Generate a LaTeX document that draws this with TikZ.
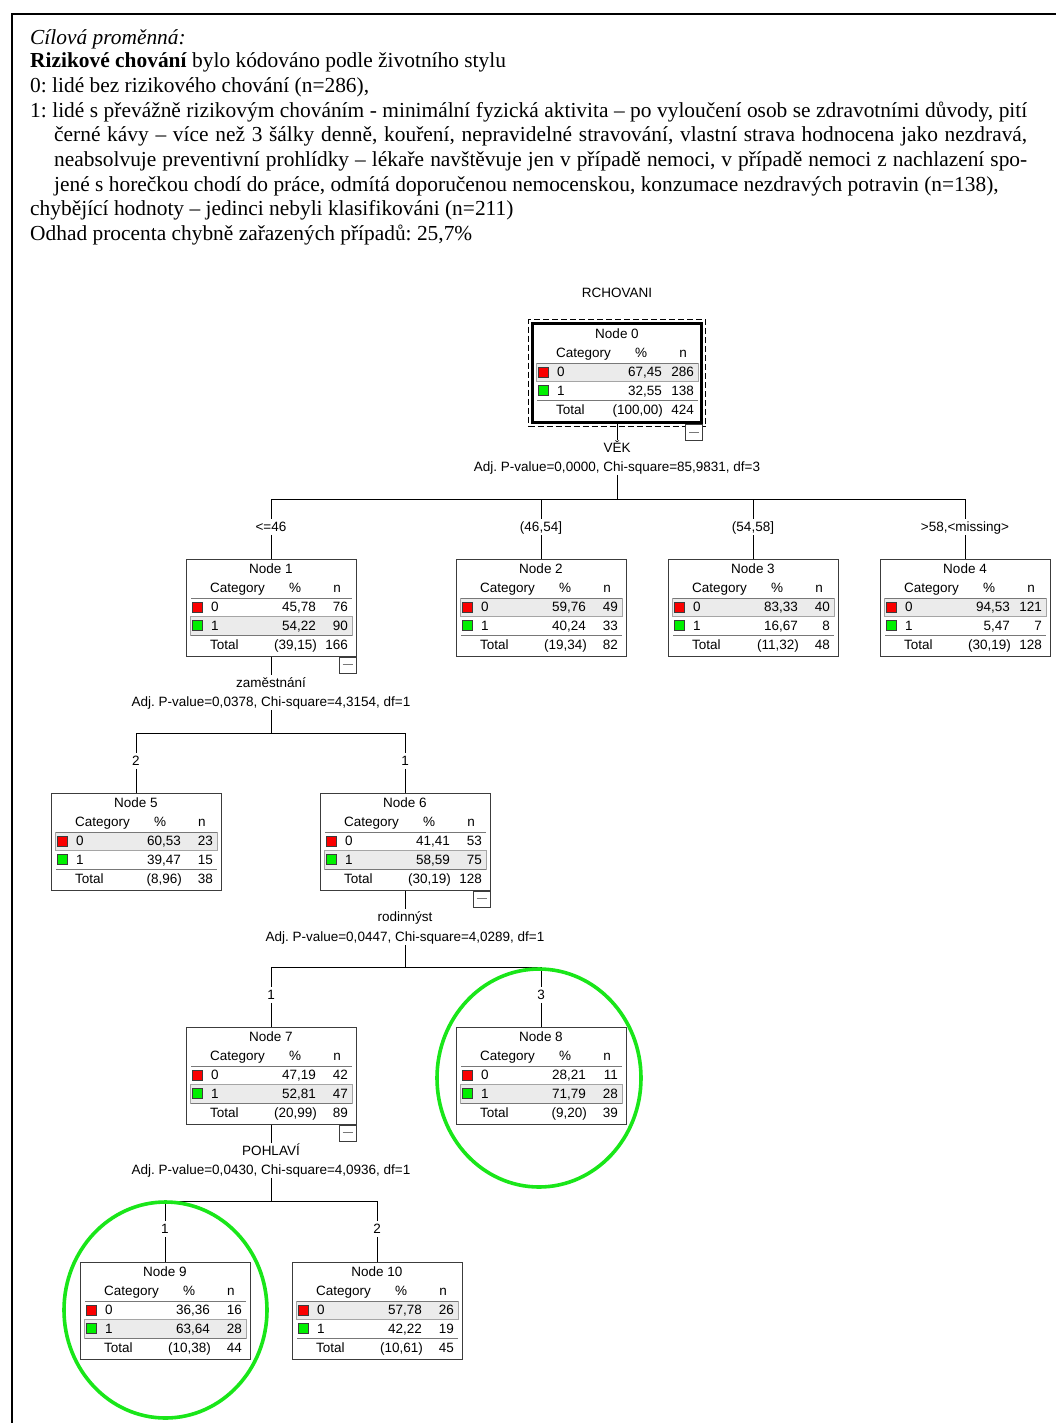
\documentclass[tikz,border=0pt]{standalone}
\usepackage{fontspec}
\setmainfont{Liberation Serif}
\newfontfamily\arialf{Liberation Sans}
\usetikzlibrary{calc}
\definecolor{catred}{RGB}{250,0,0}
\definecolor{catgreen}{RGB}{0,240,0}
\definecolor{ringgreen}{RGB}{25,230,25}
\definecolor{bandgray}{RGB}{235,235,235}
\definecolor{bandline}{RGB}{165,165,165}
\definecolor{rulegray}{RGB}{120,120,120}
\definecolor{boxgray}{RGB}{60,60,60}
\frenchspacing
\tikzset{
 tx/.style={inner sep=0pt, text height=9.5pt, text depth=0pt, font=\arialf\fontsize{13.5}{15}\selectfont},
 txl/.style={tx, anchor=west},
 txr/.style={tx, anchor=east},
 lab/.style={tx, inner ysep=3pt, inner xsep=2pt},
 tbox/.style={draw=boxgray, line width=1pt, minimum width=170pt, minimum height=97pt, inner sep=0pt},
 coll/.style={draw=boxgray, line width=0.8pt, fill=white, minimum width=17pt, minimum height=16pt, inner sep=0pt},
 conn/.style={draw=black, line width=1pt},
 hd/.style={anchor=west, inner sep=0pt, text height=14.2pt, text depth=0pt, font=\fontsize{21.4}{24.5}\selectfont},
 ring/.style={draw=ringgreen, line width=3.6pt},
}
% #1 number, #2 left, #3 top, #4 shaded row, #5 %0, #6 n0, #7 %1, #8 n1, #9 total %
\newcommand\tnode[9]{%
 \begin{scope}[shift={(#2,#3)}]
  \node[tbox] (n#1) at (85,48.5) {};
  \fill[bandgray] (4,{39+18.5*#4}) rectangle (166,{57.5+18.5*#4});
  \draw[bandline, line width=0.7pt] (4,{39+18.5*#4}) rectangle (166,{57.5+18.5*#4});
  \draw[rulegray, line width=1pt] (5,39) -- (166,39) (5,76) -- (166,76);
  \node[tx] (n#1-t) at (85,10) {Node #1};
  \node[txl] (n#1-h) at (24,29) {Category};
  \node[tx] (n#1-hp) at (109,29) {\%};
  \node[tx] (n#1-hn) at (151,29) {n};
  \draw[boxgray, line width=0.4pt, fill=catred] (6,43) rectangle (16,53);
  \draw[boxgray, line width=0.4pt, fill=catgreen] (6,61.5) rectangle (16,71.5);
  \node[txl] (n#1-a0) at (25,48) {0};
  \node[txr] (n#1-b0) at (130,48) {#5};
  \node[txr] (n#1-c0) at (162,48) {#6};
  \node[txl] (n#1-a1) at (25,66.5) {1};
  \node[txr] (n#1-b1) at (130,66.5) {#7};
  \node[txr] (n#1-c1) at (162,66.5) {#8};
  \node[txl] (n#1-a2) at (24,85.5) {Total};
  \node[txr] (n#1-b2) at (131,85.5) {#9};
  \node[txr] (n#1-c2) at (162,85.5) {\the\numexpr#6+#8\relax};
 \end{scope}}
\newcommand\collbox[2]{%
  \node[coll, anchor=north east] (#1) at (#2) {};
  \draw[rulegray, line width=1pt] ($(#1.center)+(-5,0)$) -- ($(#1.center)+(5,0)$);}
\begin{document}
\frenchspacing
\begin{tikzpicture}[x=1pt, y=-1pt]
\useasboundingbox (0,0) rectangle (1056,1423);
\fill[white] (0,0) rectangle (1056,1423);
% frame
\draw[line width=2.5pt] (12,1423) -- (12,14) -- (1056,14);
% header
\node[hd] (h1) at (30,37) {\itshape Cílová proměnná:};
\node[hd] (h2) at (30,60) {\textbf{Rizikové chování} bylo kódováno podle životního stylu};
\node[hd] (h3) at (30,85) {0: lidé bez rizikového chování (n=286),};
\node[hd] (h4) at (30,110) {\makebox[997pt][s]{1: lidé s převážně rizikovým chováním - minimální fyzická aktivita – po vyloučení osob se zdravotními důvody, pití}};
\node[hd] (h5) at (54,134) {\makebox[973pt][s]{černé kávy – více než 3 šálky denně, kouření, nepravidelné stravování, vlastní strava hodnocena jako nezdravá,}};
\node[hd] (h6) at (54,159) {\makebox[973pt][s]{neabsolvuje preventivní prohlídky – lékaře navštěvuje jen v případě nemoci, v případě nemoci z nachlazení spo-}};
\node[hd] (h7) at (54,184) {jené s horečkou chodí do práce, odmítá doporučenou nemocenskou, konzumace nezdravých potravin (n=138),};
\node[hd] (h8) at (30,208) {chybějící hodnoty – jedinci nebyli klasifikováni (n=211)};
\node[hd] (h9) at (30,233) {Odhad procenta chybně zařazených případů: 25,7\%};
% title
\node[tx] (title) at (617,293) {RCHOVANI};
% nodes
\tnode{0}{532}{324}{0}{67,45}{286}{32,55}{138}{(100,00)}
\node[draw=black, line width=3pt, minimum width=169pt, minimum height=99pt, inner sep=0pt] (n0f) at (617,373) {};
\node[draw=black, line width=0.9pt, dash pattern=on 6pt off 3pt, minimum width=177pt, minimum height=107pt, inner sep=0pt] (n0d) at (617,373) {};
\tnode{1}{186}{559}{1}{45,78}{76}{54,22}{90}{(39,15)}
\tnode{2}{456}{559}{0}{59,76}{49}{40,24}{33}{(19,34)}
\tnode{3}{668}{559}{0}{83,33}{40}{16,67}{8}{(11,32)}
\tnode{4}{880}{559}{0}{94,53}{121}{5,47}{7}{(30,19)}
\tnode{5}{51}{793}{0}{60,53}{23}{39,47}{15}{(8,96)}
\tnode{6}{320}{793}{1}{41,41}{53}{58,59}{75}{(30,19)}
\tnode{7}{186}{1027}{1}{47,19}{42}{52,81}{47}{(20,99)}
\tnode{8}{456}{1027}{1}{28,21}{11}{71,79}{28}{(9,20)}
\tnode{9}{80}{1262}{1}{36,36}{16}{63,64}{28}{(10,38)}
\tnode{10}{292}{1262}{0}{57,78}{26}{42,22}{19}{(10,61)}
% collapse boxes
\collbox{x0}{n0f.south east}
\collbox{x1}{n1.south east}
\collbox{x6}{n6.south east}
\collbox{x7}{n7.south east}
% split at node 0
\node[lab] (s0v) at (617,448) {VĚK};
\node[lab] (s0a) at (617,467) {Adj. P-value=0,0000, Chi-square=85,9831, df=3};
\coordinate (s0) at (617,499);
\coordinate (s0p1) at (271,499);
\coordinate (s0p2) at (541,499);
\coordinate (s0p3) at (753,499);
\coordinate (s0p4) at (965,499);
\draw[conn] (n0f.south) -- (s0v.north);
\draw[conn] (s0a.south) -- (s0);
\draw[conn] (s0p1) -- (s0p4);
\node[lab] (e1) at (271,527) {<=46};
\node[lab] (e2) at (541,527) {(46,54]};
\node[lab] (e3) at (753,527) {(54,58]};
\node[lab] (e4) at (965,527) {>58,<missing>};
\foreach \i in {1,2,3,4}{
  \draw[conn] (s0p\i) -- (e\i.north);
  \draw[conn] (e\i.south) -- (n\i.north);
}
% split at node 1
\node[lab] (s1v) at (271,683) {zaměstnání};
\node[lab] (s1a) at (271,702) {Adj. P-value=0,0378, Chi-square=4,3154, df=1};
\coordinate (s1) at (271,733);
\coordinate (s1p5) at (136,733);
\coordinate (s1p6) at (405,733);
\draw[conn] (n1.south) -- (s1v.north);
\draw[conn] (s1a.south) -- (s1);
\draw[conn] (s1p5) -- (s1p6);
\node[lab] (e5) at (136,761) {2};
\node[lab] (e6) at (405,761) {1};
\foreach \i in {5,6}{
  \draw[conn] (s1p\i) -- (e\i.north);
  \draw[conn] (e\i.south) -- (n\i.north);
}
% split at node 6
\node[lab] (s6v) at (405,917) {rodinnýst};
\node[lab] (s6a) at (405,937) {Adj. P-value=0,0447, Chi-square=4,0289, df=1};
\coordinate (s6) at (405,967);
\coordinate (s6p7) at (271,967);
\coordinate (s6p8) at (541,967);
\draw[conn] (n6.south) -- (s6v.north);
\draw[conn] (s6a.south) -- (s6);
\draw[conn] (s6p7) -- (s6p8);
\node[lab] (e7) at (271,995) {1};
\node[lab] (e8) at (541,995) {3};
\foreach \i in {7,8}{
  \draw[conn] (s6p\i) -- (e\i.north);
  \draw[conn] (e\i.south) -- (n\i.north);
}
% split at node 7
\node[lab] (s7v) at (271,1151) {POHLAVÍ};
\node[lab] (s7a) at (271,1170) {Adj. P-value=0,0430, Chi-square=4,0936, df=1};
\coordinate (s7) at (271,1201);
\coordinate (s7p9) at (165,1201);
\coordinate (s7p10) at (377,1201);
\draw[conn] (n7.south) -- (s7v.north);
\draw[conn] (s7a.south) -- (s7);
\draw[conn] (s7p9) -- (s7p10);
\node[lab] (e9) at (165,1229) {1};
\node[lab] (e10) at (377,1229) {2};
\foreach \i in {9,10}{
  \draw[conn] (s7p\i) -- (e\i.north);
  \draw[conn] (e\i.south) -- (n\i.north);
}
% highlight rings
\draw[ring] (539,1078) ellipse [x radius=102, y radius=109];
\draw[ring] (165.5,1310) ellipse [x radius=101.5, y radius=108];
\end{tikzpicture}
\end{document}
